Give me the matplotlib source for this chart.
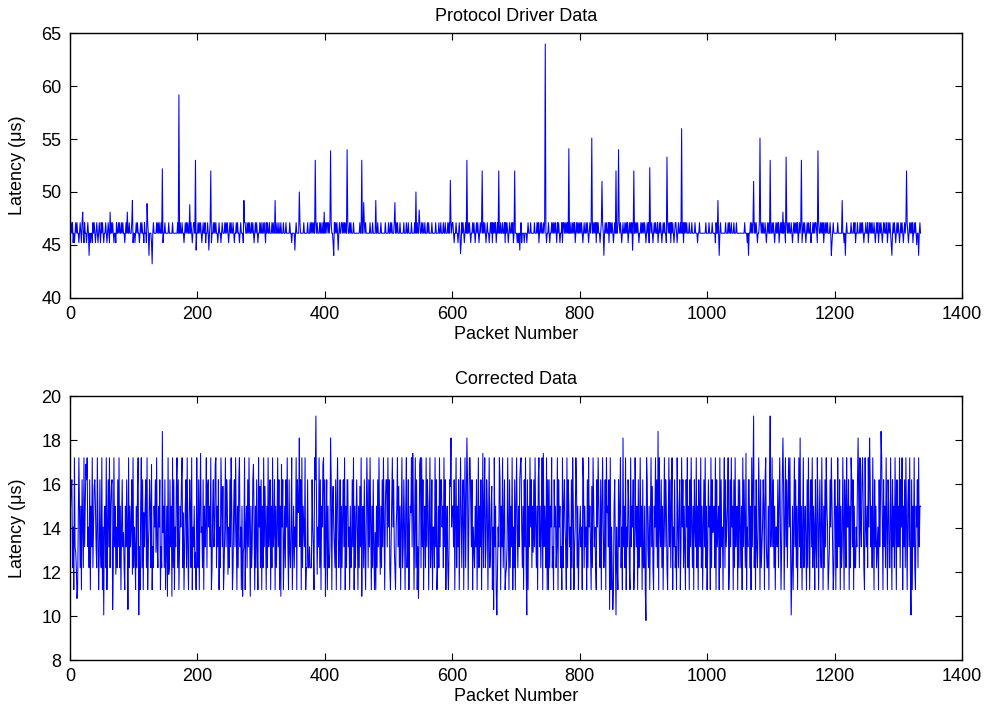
import numpy as np
import matplotlib
matplotlib.use("Agg")
import matplotlib.pyplot as plt

plt.rcParams["font.family"] = ["Liberation Sans", "DejaVu Sans"]

# Protocol driver latency, one digit per packet (level code)
raw_codes = """
6767565676 7665676578 6576656767 6566576765 6765676576
7656676567 6586767656 6576676766 7676656768 6676667656
6567676656 7676657665 6767666566 7666676767 6676656676
6666766666 7666666676 6676676656 7676766767 6567766666
7676765676 6756676767 6566767676 6567665676 6676767656
7676676566 7676656766 6567766767 6766767656 7676566767
6676765767 6676667676 6566766766 7666766676 6666766566
6666766666 7666667666 6676667676 7676676766 6767667686
7677676767 6656767676 7676677676 7676676676 7666766666
6666766666 6767666666 7666766666 6676666766 6666766667
6676766676 6767666766 6667666766 7666676666 7676766676
6767667666 7676666766 6667666676 6766676676 6676766767
7656676656 7675767656 7686767656 6767656767 6567676676
7656766567 6757676756 7656676676 6757676567 6676756766
6565666756 6656665676 6676666676 6676756767 6676766566
7656676767 6765767656 6757767676 7656766767 6756767676
7676567667 6765676756 7676757676 6567676567 6766757676
7656767667 6767656766 7676756767 6756767676 7656676767
6765676756 7676567676 6756767656 7676656767 6757676567
7656766767 6757676766 6766676666 7666566766 6666666766
6676666766 6657666666 7666666676 6676766766 6766676666
6666666676 6656766767 6786767656 6757676766 7656767676
6767656767 6756767686 7656767676 6765676767 6756767656
7676567676 6756676767 7656766767 6756767676 6676656766
6666766666 6766566676 6666676667 6756676667 6767656676
6756767676 6765676756 7676567676 6756767656 6767656767
6567676567 6767656767 6756767656 65676
"""
raw_levels = {"4": 44.1, "5": 45.2, "6": 46.1, "7": 47.1, "8": 48.1}

# spikes and dips of the top plot (packet number, latency in us)
raw_spike_packets = [30, 98, 121, 124, 129, 145, 171, 188, 197, 198, 218, 221,
                     273, 322, 353, 360, 385, 409, 414, 421, 435, 458, 461, 480,
                     510, 543, 548, 597, 613, 623, 647, 673, 698, 706, 746, 783,
                     819, 835, 838, 857, 861, 883, 885, 910, 937, 960, 1017, 1019,
                     1065, 1073, 1083, 1099, 1124, 1148, 1174, 1195, 1212, 1217,
                     1290, 1313, 1329, 1332]
raw_spike_values = [44.0, 49.2, 48.9, 44.0, 43.2, 52.2, 59.2, 48.8, 53.0, 44.5, 44.5, 52.0,
                    49.2, 49.2, 44.5, 50.0, 53.0, 53.9, 44.0, 44.5, 54.0, 53.0, 49.0, 49.2,
                    49.0, 50.0, 48.3, 51.1, 44.2, 53.0, 52.0, 52.0, 52.0, 44.5, 64.0, 54.1,
                    55.1, 51.0, 44.0, 52.0, 54.0, 44.5, 52.0, 52.3, 53.3, 56.0, 49.2, 44.0,
                    44.0, 51.0, 55.1, 53.0, 53.3, 53.0, 53.9, 44.0, 49.2, 44.0,
                    44.0, 52.0, 45.0, 44.0]

# corrected latency, one code per packet (level code)
corr_codes = """
5f624173c2 6147e25164 2735g67342 6153724f65 32741c6327
146e527146 3725f64273 5b42637251 463d215364 1725346b72
43152f7431 57261e3562 7134652g13 2546c73254 61327d5261
3547b26354 726143f726 1354672e13 5627314652 714352c174
26153d4261 53472f6453 7125634g72 536142753f 1247365b42
637e125637 4152673415 2c37145263 7415236g41 5263174f26
15273f4152 734615273d 6152473615 2g46135264 7316c24713
5243716e54 3617254371 2262232226 4317625b43 726154g726
3461522376 15f4326157 4236152e63 7152663415 2c63715246
4152f37445 2631475263 74152631d1 526374b526 3741566374
6213574632 14573f2514 7236415723 6145e73651 47261354g7
27361d5273 6514723614 4273612527 3664527361 452136f145
5361472536 147e256147 2536147753 6143253614 7253614725
7236514723 5f14273516 2437615372 461b237416 2537142615
742536g742 5163724615 374625c637 4251673524 7163542716
1625472316 4523716452 3172564317 2653416275 1347625134
5341762534 16274531f2 7534216475 3261574236 17e5362714
2415637421 6357241635 2714365217 3546127435 1624735162
2514763251 473f215473 6251743625 1473652147 3625714362
3174256137 4625316472 5163742516 4372516437 2514637251
36451726d4 5271634517 2634157263 4571263745 16273e5162
6425173642 5143662517 3642516324 7516234651 6732251643
4736251443 625741362f 1473625747 3625147362 5147322514
7245316274 1563725416 3275146327 4152637541 2364753126
6152743615 2374165274 4615276361 5224361527 4367521743
5274163527 4163523416 3577416352 7416522741 6352741635
3726471536 2741563724 6153721546 27355
"""
corr_levels = {"1": 11.2, "2": 12.2, "3": 13.15, "4": 14.05, "5": 15.0, "6": 16.2, "7": 17.2,
               "b": 11.9, "c": 12.9, "d": 13.8, "e": 14.7, "f": 15.9, "g": 16.9}

# extremes of the bottom plot (packet number, latency in us)
corr_spike_packets = [11, 53, 67, 91, 108, 145, 153, 160, 205, 271, 283, 331, 360,
                      386, 401, 409, 458, 538, 547, 598, 623, 648, 665, 670, 717,
                      743, 847, 852, 857, 868, 904, 923, 1061, 1073, 1099, 1119,
                      1132, 1146, 1237, 1255, 1273, 1320]
corr_spike_values = [10.8, 10.05, 10.3, 10.3, 10.05, 18.4, 10.9, 10.9, 17.4, 10.9, 10.9, 10.9, 18.1,
                     19.1, 10.9, 18.1, 10.9, 17.4, 10.8, 18.1, 18.1, 17.4, 10.3, 10.05, 10.05,
                     17.4, 10.3, 10.3, 10.05, 18.1, 9.8, 18.4, 17.4, 19.1, 19.1, 18.1,
                     10.05, 18.1, 18.1, 18.1, 18.4, 10.05]

raw = np.array([raw_levels[c] for c in "".join(raw_codes.split())])
raw[np.array(raw_spike_packets) - 1] = raw_spike_values
corr = np.array([corr_levels[c] for c in "".join(corr_codes.split())])
corr[np.array(corr_spike_packets) - 1] = corr_spike_values

fig = plt.figure(figsize=(9.91, 7.12), dpi=100)
ax1 = fig.add_axes([0.0706, 0.5819, 0.9001, 0.3711])
ax2 = fig.add_axes([0.0706, 0.0730, 0.9001, 0.3705])

panels = [
    (ax1, raw, "Protocol Driver Data", (40, 65), np.arange(40, 66, 5)),
    (ax2, corr, "Corrected Data", (8, 20), np.arange(8, 21, 2)),
]
for ax, y, title, ylim, yticks in panels:
    ax.plot(np.arange(1, len(y) + 1), y, color="blue", linewidth=0.75)
    ax.set_xlim(0, 1400)
    ax.set_ylim(*ylim)
    ax.set_xticks(np.arange(0, 1401, 200))
    ax.set_yticks(yticks)
    ax.tick_params(direction="in", top=True, right=True, length=5.3, width=0.8,
                   pad=6, labelsize=13)
    for s in ax.spines.values():
        s.set_linewidth(1.0)
    ax.set_title(title, fontsize=13, pad=9)
    ax.set_xlabel("Packet Number", fontsize=13, labelpad=2)
    ax.set_ylabel("Latency (\u03bcs)", fontsize=13, labelpad=11)

fig.savefig("out.png", dpi=100)
